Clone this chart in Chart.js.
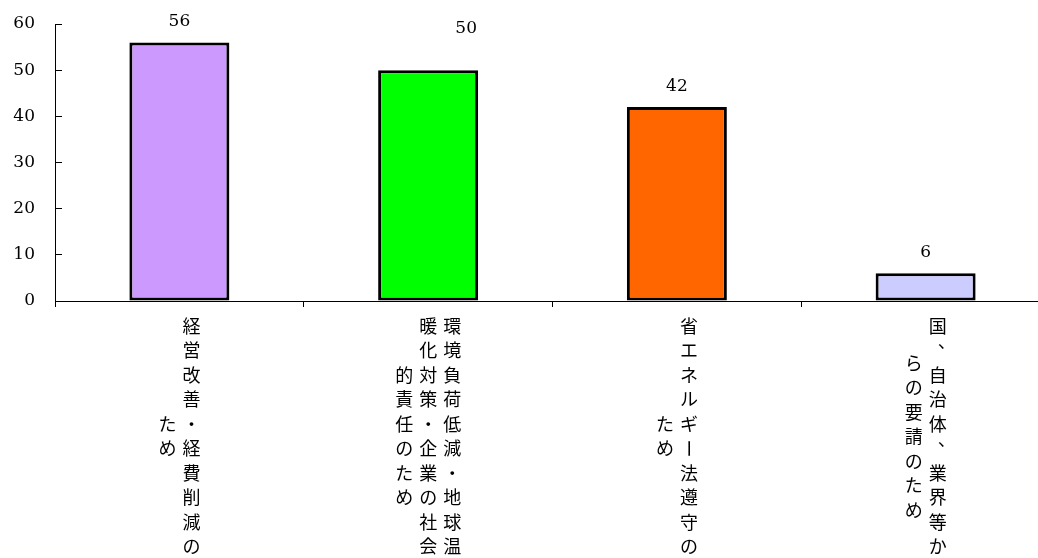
<!DOCTYPE html>
<html>
<head>
<meta charset="utf-8">
<script src="https://cdn.jsdelivr.net/npm/chart.js@4.4.0/dist/chart.umd.min.js"></script>
<style>
    html, body { margin: 0; padding: 0; background: #fff; overflow: hidden; }
    #wrap { width: 1050px; height: 558px; position: relative; }
</style>
</head>
<body>
<div id="wrap"><canvas id="myChart"></canvas></div>
<script>
const reasons = [
    '経営改善・経費削減のため',
    '環境負荷低減・地球温暖化対策・企業の社会的責任のため',
    '省エネルギー法遵守のため',
    '国、自治体、業界等からの要請のため'
]
const counts = [56, 50, 42, 6]
const barColors = ['#CC99FF', '#00FF00', '#FF6600', '#CCCCFF']

// value labels: Excel moved the "50" one
const labelDx = [0, 38, 0, 0]
const labelDy = [21, 42, 21, 21]

const valueLabels = {
    id: 'valueLabels',
    afterDatasetsDraw(chart) {
        const ctx = chart.ctx
        const bars = chart.getDatasetMeta(0).data
        ctx.save()
        ctx.font = '17px "DejaVu Serif"'
        ctx.fillStyle = '#000'
        ctx.textAlign = 'center'
        ctx.textBaseline = 'middle'
        bars.forEach((bar, i) => {
            ctx.fillText(String(counts[i]), bar.x + labelDx[i], bar.y - labelDy[i])
        })
        ctx.restore()
    }
}

// category labels written vertically, 10 chars per column, right to left
const verticalLabels = {
    id: 'verticalLabels',
    afterDraw(chart) {
        const ctx = chart.ctx
        const xs = chart.scales.x
        const perCol = 10
        const colGap = 24
        const rowGap = 24.5
        ctx.save()
        ctx.font = '18px "Noto Sans CJK JP"'
        ctx.fillStyle = '#000'
        ctx.textAlign = 'center'
        ctx.textBaseline = 'middle'
        reasons.forEach((text, i) => {
            const chars = [...text]
            const cols = []
            for (let k = 0; k < chars.length; k += perCol) cols.push(chars.slice(k, k + perCol))
            const cx = xs.getPixelForTick(i)
            cols.forEach((col, c) => {
                const x = cx + ((cols.length - 1) / 2 - c) * colGap
                const start = (perCol - col.length) / 2
                col.forEach((ch, r) => {
                    const y = xs.top + 25 + (start + r) * rowGap
                    if (ch === '、') {
                        ctx.fillText(ch, x + 9, y - 9)
                    } else if (ch === 'ー') {
                        ctx.save()
                        ctx.translate(x, y)
                        ctx.rotate(Math.PI / 2)
                        ctx.fillText(ch, 0, 0)
                        ctx.restore()
                    } else {
                        ctx.fillText(ch, x, y)
                    }
                })
            })
        })
        ctx.restore()
    }
}

const ctx1 = document.getElementById('myChart')

new Chart(ctx1, {
    type: 'bar',
    data: {
        labels: reasons,
        datasets: [{
            data: counts,
            backgroundColor: barColors,
            borderColor: '#000',
            borderWidth: 3,
            borderSkipped: false,
            barPercentage: 0.402,
            categoryPercentage: 1
        }]
    },
    options: {
        responsive: true,
        maintainAspectRatio: false,
        animation: false,
        layout: { padding: { top: 24, right: 0, left: 0, bottom: 0 } },
        plugins: {
            legend: { display: false },
            tooltip: { enabled: false }
        },
        scales: {
            x: {
                grid: {
                    offset: true,
                    drawOnChartArea: false,
                    tickLength: 6,
                    color: '#000'
                },
                border: { color: '#000', width: 1 },
                ticks: { display: false },
                afterFit: (scale) => { scale.height = 257 }
            },
            y: {
                min: 0,
                max: 60,
                grid: {
                    drawOnChartArea: false,
                    tickLength: -7,
                    color: '#000'
                },
                border: { color: '#000', width: 1 },
                ticks: {
                    stepSize: 10,
                    padding: 27,
                    color: '#000',
                    font: { family: 'DejaVu Serif', size: 17 }
                },
                afterFit: (scale) => {
                    scale.width = 55
                    scale.paddingTop = 0
                    scale.paddingBottom = 0
                }
            }
        }
    },
    plugins: [valueLabels, verticalLabels]
});
</script>
</body>
</html>
